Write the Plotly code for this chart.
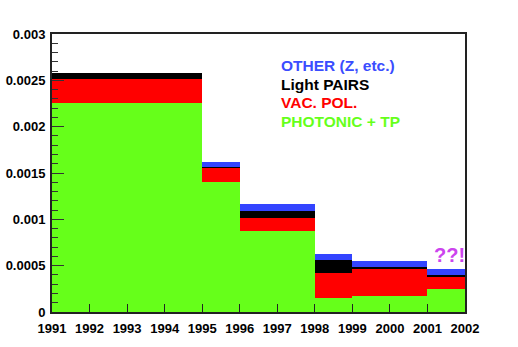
import plotly.graph_objects as go

# bin edges (years) and stacked contributions per bin
edges = [1991, 1995, 1996, 1998, 1999, 2001, 2002]
photonic = [0.002259, 0.001406, 0.000874, 0.000150, 0.000169, 0.000245]
vacpol = [0.000252, 0.000154, 0.000137, 0.000267, 0.000302, 0.000136]
pairs = [0.000065, 0.000010, 0.000079, 0.000144, 0.000015, 0.000018]
other = [0.0, 0.000045, 0.000072, 0.000062, 0.000061, 0.000068]

centers = [(a + b) / 2 for a, b in zip(edges[:-1], edges[1:])]
widths = [b - a for a, b in zip(edges[:-1], edges[1:])]

series = [
    ("PHOTONIC + TP", photonic, "#66ff1a"),
    ("VAC. POL.", vacpol, "#ff0000"),
    ("Light PAIRS", pairs, "#000000"),
    ("OTHER (Z, etc.)", other, "#3344ff"),
]

fig = go.Figure()
for name, vals, col in series:
    fig.add_trace(go.Bar(x=centers, y=vals, width=widths, name=name,
                         marker=dict(color=col, line=dict(width=0))))

font = dict(family="Liberation Sans, Arial, sans-serif", size=13,
            color="black", weight="bold")

fig.update_layout(
    barmode="stack", bargap=0, showlegend=False,
    width=518, height=347,
    margin=dict(l=52, r=53, t=34, b=35),
    paper_bgcolor="white", plot_bgcolor="white",
    font=font,
)
fig.update_xaxes(range=[1991, 2002], dtick=1, tick0=1991, automargin=False,
                 ticklabelstandoff=3,
                 ticks="inside", ticklen=8, tickwidth=1, tickcolor="#222",
                 showline=True, linecolor="#222", linewidth=2, mirror=True,
                 showgrid=False, zeroline=False, tickfont=font)
fig.update_yaxes(range=[0, 0.003], dtick=0.0005, tickformat="~g",
                 automargin=False, ticklabelstandoff=2,
                 ticks="inside", ticklen=12, tickwidth=1, tickcolor="#333",
                 minor=dict(dtick=0.0001, ticks="inside", ticklen=6,
                            tickcolor="#333"),
                 showline=True, linecolor="#222", linewidth=2, mirror=True,
                 showgrid=False, zeroline=False, tickfont=font)

labels = [("OTHER (Z, etc.)", "#3a4dff", 0.885),
          ("Light PAIRS", "#000000", 0.820),
          ("VAC. POL.", "#ff0000", 0.752),
          ("PHOTONIC + TP", "#66ff1a", 0.687)]
for txt, col, yy in labels:
    fig.add_annotation(text=txt, xref="paper", yref="paper", x=0.550, y=yy,
                       xanchor="left", yanchor="middle", showarrow=False,
                       font=dict(family="Liberation Sans, Arial, sans-serif",
                                 size=15.5, color=col, weight="bold"))

fig.add_annotation(text="??!", x=2001.6, y=0.00061, showarrow=False,
                   xanchor="center", yanchor="middle",
                   font=dict(family="Liberation Sans, Arial, sans-serif",
                             size=20, color="#cc44ee", weight="bold"))

# drop the browser's default 8px body margin so the figure fills the window
fig.write_html("out.html", config={"displayModeBar": False},
               post_script="document.body.style.margin='0';")
